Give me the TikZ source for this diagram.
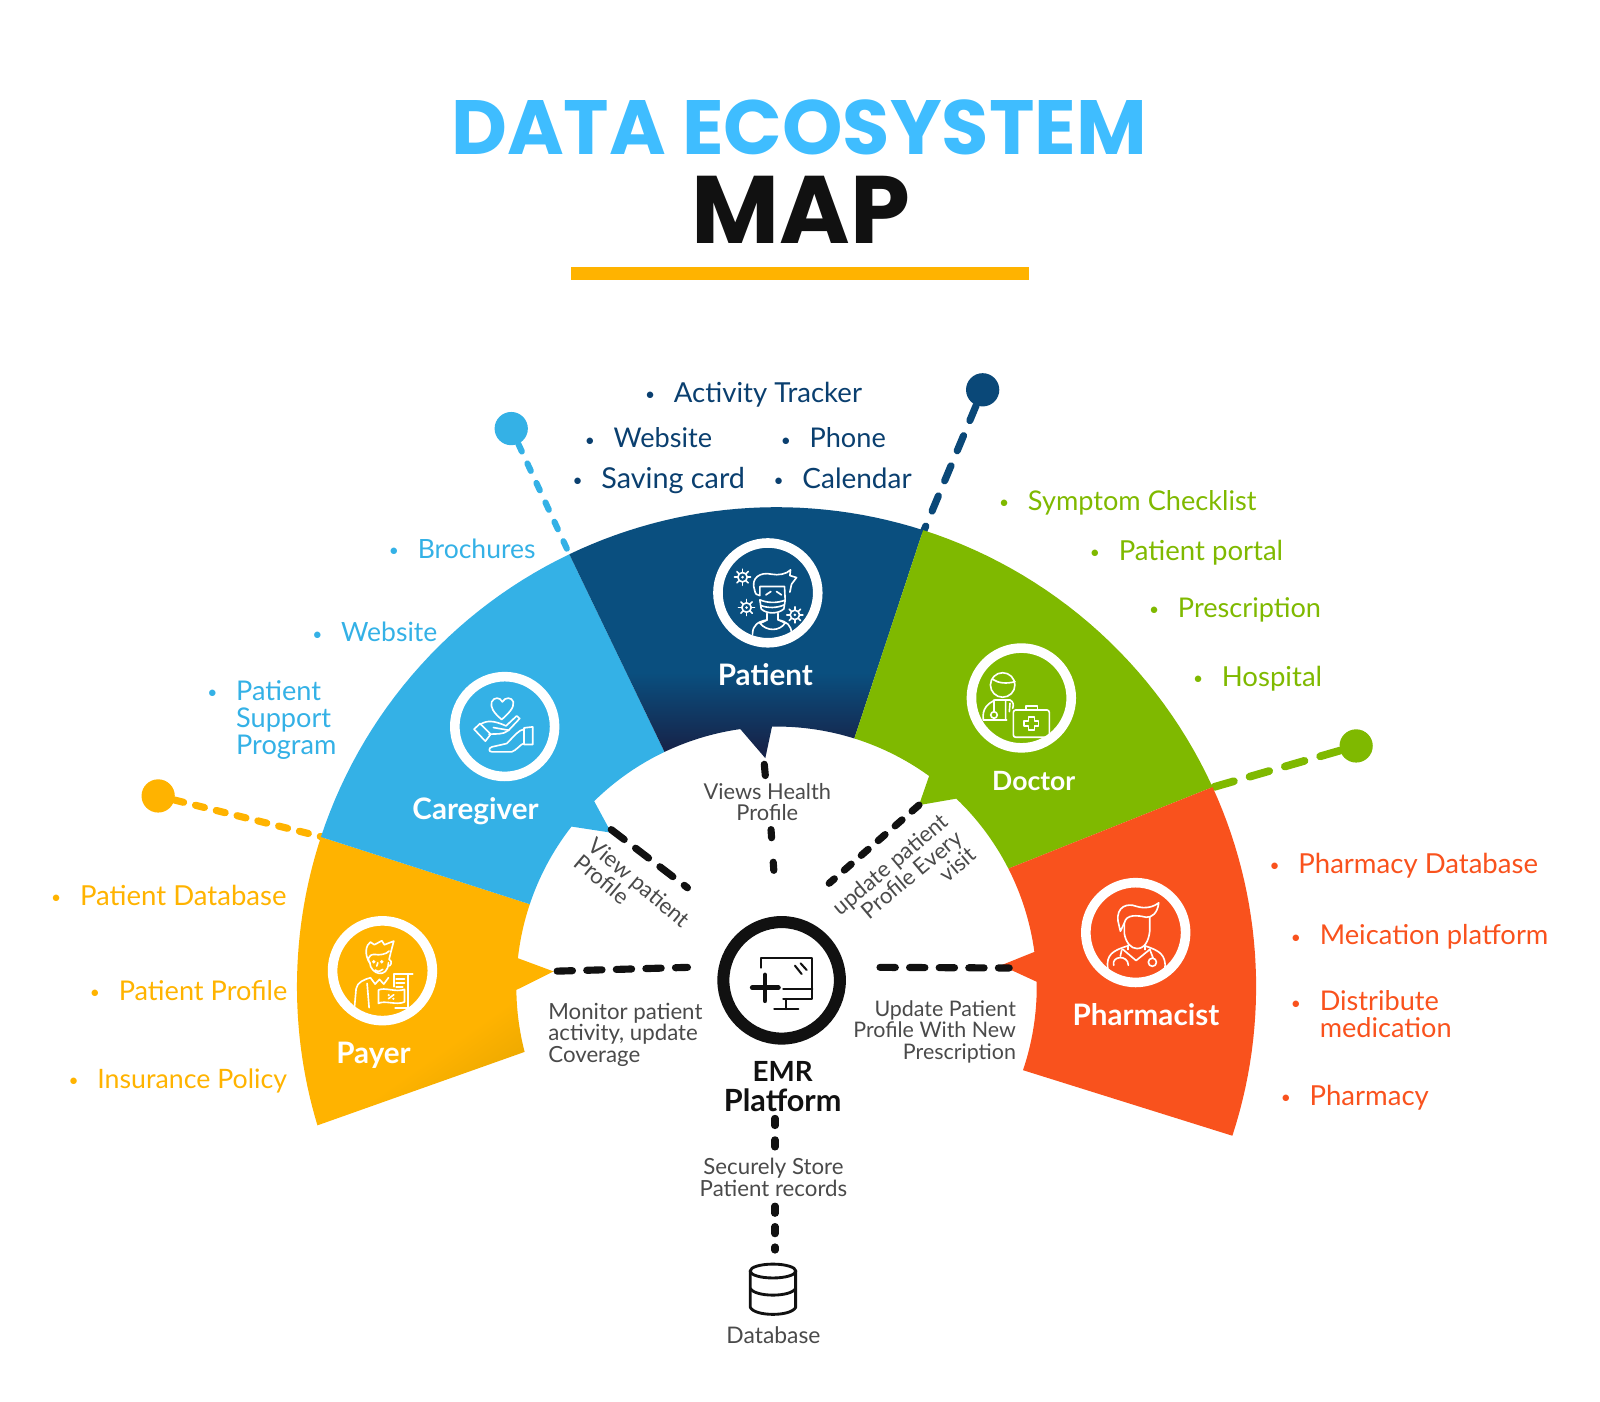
\documentclass[tikz,border=0pt]{standalone}
\usepackage{fontspec}
\setmainfont{Lato}
\newfontfamily\titlefont{Poppins}
\definecolor{cpayer}{HTML}{FFB300}
\definecolor{cpayerd}{HTML}{EBA800}
\definecolor{ccare}{HTML}{34B1E6}
\definecolor{cpat}{HTML}{0A4F7F}
\definecolor{cpatd}{HTML}{16244A}
\definecolor{cdoc}{HTML}{7FB900}
\definecolor{cpharm}{HTML}{F9521D}
\definecolor{ctitle}{HTML}{3FBDFF}
\definecolor{cnavy}{HTML}{0A3F6F}
\definecolor{cnavydot}{HTML}{0A4878}
\definecolor{cblk}{HTML}{111111}
\definecolor{cgray}{HTML}{4A4A4A}
\pgfdeclareverticalshading{patshade}{100bp}{color(0bp)=(cpatd); color(27bp)=(cpatd); color(42bp)=(cpat); color(100bp)=(cpat)}
\pgfdeclareverticalshading{payshade}{100bp}{color(0bp)=(cpayerd); color(27bp)=(cpayerd); color(38bp)=(cpayer); color(100bp)=(cpayer)}
\newcommand{\bul}{\llap{\raisebox{.9pt}{\fontsize{8.5}{8.5}\selectfont •}\hspace{9.2pt}}}
\tikzset{
  listtext/.style={anchor=base west,font=\fontsize{13.5}{13.2}\selectfont,align=left,inner sep=0pt},
  graytext/.style={font=\fontsize{10.9}{10.6}\selectfont,text=cgray,inner sep=0pt},
  seclabel/.style={font=\fontsize{14.5}{15}\selectfont\bfseries,text=white,inner sep=0pt},
  ring/.style={circle,draw=white,line width=4.7pt,minimum size=48.9pt,inner sep=0pt},
  dashline/.style={line width=3.5pt,line cap=round,cblk},
  leader/.style={line width=3.5pt,line cap=round},
  dotnode/.style={circle,inner sep=0pt,minimum size=16.3pt},
  icon/.style={white,line width=.8pt,line cap=round,line join=round},
  sm/.style={samples=30}
}
\begin{document}
\begin{tikzpicture}[x=.5pt,y=-.5pt]
\useasboundingbox (0,0) rectangle (1568,1373);
% title
\node[inner sep=0pt,text=ctitle,font=\titlefont\fontsize{37.7}{40}\selectfont\bfseries] (title1) at (783,125) {DATA ECOSYSTEM};
\node[inner sep=0pt,text=cblk,font=\titlefont\fontsize{47}{50}\selectfont\bfseries] (title2) at (785,206) {MAP};
\fill[cpayer] (560,262) rectangle (1008,274);

% leader dots
\node[dotnode,fill=cpayer] (dpay) at (155,780) {};
\node[dotnode,fill=ccare] (dcare) at (501,420) {};
\node[dotnode,fill=cnavydot] (dpat) at (963,382) {};
\node[dotnode,fill=cdoc] (ddoc) at (1329,731) {};
\coordinate (epay) at (315,820);
\coordinate (ecare) at (558,543);
\coordinate (epat) at (905,521);
\coordinate (edoc) at (1187,772);
\draw[leader,cpayer,dash pattern=on 4.5pt off 6pt] (dpay) -- (epay);
\draw[leader,ccare,line width=3pt,dash pattern=on 4pt off 6.5pt] (dcare) -- (ecare);
\draw[leader,cnavydot,dash pattern=on 8pt off 8pt] (dpat) -- (epat);
\draw[leader,cdoc,line width=3.8pt,dash pattern=on 10pt off 8pt] (ddoc) -- (edoc);

% sections
\shade[shading=payshade,shading angle=35]
  plot[sm,domain=163.2:198.2] ({761+470*cos(\x)},{967+470*sin(\x)})
  -- plot[sm,domain=198.5:186.3] ({761+255*cos(\x)},{967+255*sin(\x)})
  -- (542.5,952)
  -- plot[sm,domain=179.3:165.5] ({761+255*cos(\x)},{967+255*sin(\x)}) -- cycle;
\fill[ccare]
  plot[sm,domain=198.2:244.4] ({761+470*cos(\x)},{967+470*sin(\x)})
  -- plot[sm,domain=244.5:225.5] ({761+255*cos(\x)},{967+255*sin(\x)})
  -- (599,816)
  -- plot[sm,domain=218:198.5] ({761+255*cos(\x)},{967+255*sin(\x)}) -- cycle;
\shade[shading=patshade]
  plot[sm,domain=244.4:287.8] ({761+470*cos(\x)},{967+470*sin(\x)})
  -- plot[sm,domain=287.4:269] ({761+255*cos(\x)},{967+255*sin(\x)})
  -- (750,743)
  -- plot[sm,domain=262:244.5] ({761+255*cos(\x)},{967+255*sin(\x)}) -- cycle;
\fill[cdoc]
  plot[sm,domain=287.8:335.4] ({761+470*cos(\x)},{967+470*sin(\x)})
  -- plot[sm,domain=333:313.7] ({761+255*cos(\x)},{967+255*sin(\x)})
  -- (900.6,789)
  -- plot[sm,domain=305.9:287.4] ({761+255*cos(\x)},{967+255*sin(\x)}) -- cycle;
\fill[cpharm]
  plot[sm,domain=335.4:378.1] ({761+470*cos(\x)},{967+470*sin(\x)})
  -- plot[sm,domain=378.7:358.9] ({761+255*cos(\x)},{967+255*sin(\x)})
  -- (981,946)
  -- plot[sm,domain=352.3:333] ({761+255*cos(\x)},{967+255*sin(\x)}) -- cycle;

% rings
\node[ring] (rpat) at (752.5,581) {};
\node[ring] (rcare) at (494.6,712) {};
\node[ring] (rpay) at (374.8,951.3) {};
\node[ring] (rdoc) at (1000.9,684) {};
\node[ring] (rpharm) at (1113,913.9) {};
\node[circle,draw=cblk,line width=5.9pt,minimum size=57.1pt,inner sep=0pt] (remr) at (766,960.7) {};

% patient icon
\begin{scope}[shift={(752.5,581)},x=.1633pt,y=-.1633pt,shift={(-174,-174)},icon]
\draw (134,165) .. controls (122,130) and (150,110) .. (185,118) .. controls (205,122) and (230,118) .. (242,105) -- (240,122) -- (260,128) -- (245,148) -- (240,172);
\draw (134,165) .. controls (136,178) and (142,182) .. (150,182) -- (150,155) -- (224,155) -- (226,196);
\draw (168,180) -- (183,170) (200,170) -- (215,180);
\draw (150,195) .. controls (175,205) and (200,205) .. (226,196) -- (222,222) .. controls (205,238) and (170,238) .. (154,222) -- cycle;
\draw (153,212) .. controls (175,220) and (200,220) .. (223,210);
\draw (172,236) -- (172,255) (205,236) -- (205,255);
\draw (128,298) .. controls (128,270) and (145,260) .. (172,255) .. controls (160,262) and (150,265) .. (150,265) .. controls (170,290) and (210,290) .. (226,264) .. controls (220,262) and (212,258) .. (205,255) .. controls (230,260) and (245,270) .. (245,298);
\foreach \cx/\cy in {98/127,110/218,255/240}{
  \draw (\cx,\cy) circle[radius=2.3pt];
  \foreach \an in {0,45,...,315}{ \draw (\cx,\cy) ++(\an:14) -- ++(\an:10); }
  \fill[white] (\cx,\cy) circle[radius=.7pt];
}
\end{scope}

% caregiver icon
\begin{scope}[shift={(494.6,712)},x=.1633pt,y=-.1633pt,shift={(-174,-174)},icon]
\draw (165,153) .. controls (140,132) and (130,115) .. (135,100) .. controls (142,85) and (160,85) .. (167,100) .. controls (175,85) and (195,85) .. (200,100) .. controls (203,118) and (185,135) .. (165,153);
\draw (82,182) -- (100,165) -- (132,197) -- (116,218) -- cycle;
\draw (100,168) .. controls (120,155) and (140,155) .. (178,172) -- (210,142) -- (219,150) -- (186,185) -- (140,177);
\draw (127,197) .. controls (145,195) and (170,200) .. (186,185);
\draw (232,178) -- (258,175) -- (258,228) -- (232,228) -- cycle;
\draw (232,182) .. controls (215,185) and (205,200) .. (180,225) -- (136,235) .. controls (125,238) and (125,250) .. (136,250) -- (195,250) .. controls (210,245) and (220,228) .. (232,224);
\end{scope}

% payer icon
\begin{scope}[shift={(374.8,951.3)},x=.1633pt,y=-.1633pt,shift={(-174,-174)},icon]
\draw (136,150) .. controls (118,125) and (125,95) .. (138,88) -- (150,96) -- (172,84) -- (180,96) -- (208,85) -- (200,115) -- (194,140) .. controls (205,145) and (200,160) .. (192,160);
\draw (136,150) .. controls (128,145) and (130,125) .. (150,125) .. controls (165,128) and (185,125) .. (194,115);
\draw (136,150) .. controls (138,185) and (190,200) .. (192,150);
\fill[white] (148,147) circle[radius=.9pt] (172,147) circle[radius=.9pt];
\draw (160,150) -- (157,160) (152,172) .. controls (160,178) and (170,176) .. (175,170);
\draw (138,195) -- (152,214) -- (165,200) -- (178,214) -- (192,195);
\draw (90,285) -- (95,228) .. controls (98,208) and (120,200) .. (138,195);
\draw (128,212) -- (134,285);
\draw (162,232) .. controls (180,222) and (215,240) .. (240,230) -- (240,268) .. controls (215,278) and (180,262) .. (162,272) -- cycle;
\draw (192,258) -- (208,246);
\fill[white] (193,247) circle[radius=.6pt] (207,258) circle[radius=.6pt];
\draw (208,222) -- (208,183) -- (265,183) (250,183) -- (250,285) -- (212,285);
\draw (215,198) -- (240,198) (215,210) -- (240,210) (215,222) -- (235,222);
\end{scope}

% doctor icon
\begin{scope}[shift={(1000.9,684)},x=.1633pt,y=-.1633pt,shift={(-174,-174)},icon]
\draw (118,135) circle[radius=6pt];
\draw (88,118) .. controls (105,130) and (130,132) .. (155,125);
\draw (60,240) .. controls (55,205) and (75,190) .. (95,180) -- (140,180) .. controls (150,185) and (152,195) .. (148,205);
\draw (60,240) -- (130,240);
\draw (92,180) -- (92,215);
\draw (92,225) circle[radius=1.6pt];
\draw (127,182) -- (127,240) (140,190) -- (138,215);
\draw[rounded corners=1.2pt] (150,210) rectangle (258,292);
\draw (188,210) -- (188,198) -- (222,198) -- (222,210);
\draw (195,232) -- (213,232) -- (213,243) -- (226,243) -- (226,259) -- (213,259) -- (213,270) -- (195,270) -- (195,259) -- (182,259) -- (182,243) -- (195,243) -- cycle;
\end{scope}

% pharmacist icon
\begin{scope}[shift={(1113,913.9)},x=.1633pt,y=-.1633pt,shift={(-174,-174)},icon]
\draw (128,170) -- (121,140) .. controls (115,95) and (150,85) .. (175,95) .. controls (205,105) and (230,95) .. (243,85) .. controls (240,115) and (222,130) .. (205,128) .. controls (180,122) and (145,118) .. (140,145) -- (128,170);
\draw (140,145) -- (140,178) .. controls (145,205) and (160,222) .. (178,222) .. controls (200,222) and (213,200) .. (216,170) -- (216,128);
\draw (150,212) -- (150,225) (202,212) -- (202,225);
\draw (135,224) -- (175,258) -- (217,224);
\draw (90,282) .. controls (85,240) and (105,228) .. (150,214);
\draw (262,282) .. controls (265,240) and (245,228) .. (202,214);
\draw (108,272) .. controls (100,245) and (150,238) .. (152,272) (132,226) -- (128,244);
\draw (224,263) circle[radius=2pt] (226,250) -- (216,224);
\end{scope}

% emr icon
\begin{scope}[shift={(766,960.7)},x=.1633pt,y=-.1633pt,shift={(-305,-241)},line cap=round,line join=round,cblk]
\draw[line width=1.1pt] (242,203) -- (242,175) -- (397,175) -- (397,297) -- (310,297) (310,268) -- (397,268);
\draw[line width=1.1pt] (318,297) -- (318,327) (283,327) -- (355,327);
\draw[line width=1pt] (345,197) -- (365,222) (362,190) -- (380,210);
\draw[line width=2.4pt] (217,263) -- (295,263) (255,225) -- (255,302);
\end{scope}

% database icon
\begin{scope}[shift={(757.5,1245.6)},x=.1633pt,y=-.1633pt,shift={(-279,-1113)},cblk,line width=1.4pt,line join=round]
\draw (279,1113) ellipse[x radius=11.2pt,y radius=3.4pt];
\draw (211,1113) -- (211,1222) .. controls (225,1250) and (333,1250) .. (347,1222) -- (347,1113);
\draw (211,1165) .. controls (225,1192) and (333,1192) .. (347,1165);
\end{scope}

% section labels
\node[seclabel] (lpat) at (750,661) {Patient};
\node[seclabel] (lcare) at (466,795) {Caregiver};
\node[seclabel] (lpay) at (366,1034) {Payer};
\node[seclabel,font=\fontsize{13}{14}\selectfont\bfseries] (ldoc) at (1013,765) {Doctor};
\node[seclabel] (lpharm) at (1123,994) {Pharmacist};
\node[seclabel,text=cblk,font=\fontsize{13.6}{14}\selectfont\bfseries] (lemr) at (767,1050) {EMR};
\node[seclabel,text=cblk,font=\fontsize{15}{15}\selectfont\bfseries] (lplat) at (767,1078) {Platform};

% lists
\begin{scope}[every node/.append style={text=cnavy}]
\node[listtext] (n1) at (660,394) {\bul Activity Tracker};
\node[listtext,font=\fontsize{13.3}{13.2}\selectfont] (n2) at (601,439) {\bul Website};
\node[listtext,font=\fontsize{13.3}{13.2}\selectfont] (n3) at (793,439) {\bul Phone};
\node[listtext,font=\fontsize{14.1}{13.2}\selectfont] (n4) at (589,479) {\bul Saving card};
\node[listtext,font=\fontsize{13.7}{13.2}\selectfont] (n5) at (786,479) {\bul Calendar};
\end{scope}
\begin{scope}[every node/.append style={text=ccare}]
\node[listtext,font=\fontsize{13}{13.2}\selectfont] (c1) at (409,547) {\bul Brochures};
\node[listtext,font=\fontsize{13}{13.2}\selectfont] (c2) at (334,629) {\bul Website};
\node[listtext,font=\fontsize{13.3}{13.2}\selectfont] (c3) at (231,739) {\bul Patient\\Support\\Program};
\end{scope}
\begin{scope}[every node/.append style={text=cpayer}]
\node[listtext] (y1) at (78,887) {\bul Patient Database};
\node[listtext,font=\fontsize{13.3}{13.2}\selectfont] (y2) at (116,980) {\bul Patient Profile};
\node[listtext,font=\fontsize{13.1}{13.2}\selectfont] (y3) at (95,1067) {\bul Insurance Policy};
\end{scope}
\begin{scope}[every node/.append style={text=cdoc}]
\node[listtext,font=\fontsize{13.3}{13.2}\selectfont] (g1) at (1007,500) {\bul Symptom Checklist};
\node[listtext] (g2) at (1096,549) {\bul Patient portal};
\node[listtext,font=\fontsize{13.3}{13.2}\selectfont] (g3) at (1154,605) {\bul Prescription};
\node[listtext] (g4) at (1197,673) {\bul Hospital};
\end{scope}
\begin{scope}[every node/.append style={text=cpharm}]
\node[listtext] (r1) at (1272,856) {\bul Pharmacy Database};
\node[listtext,font=\fontsize{13.4}{13.2}\selectfont] (r2) at (1293,926) {\bul Meication platform};
\node[listtext,font=\fontsize{13.3}{13.2}\selectfont] (r3) at (1293,1017) {\bul Distribute\\medication};
\node[listtext] (r4) at (1283,1083) {\bul Pharmacy};
\end{scope}

% flow labels
\node[graytext,align=center,font=\fontsize{10.7}{10.6}\selectfont] (t1) at (752,786) {Views Health\\Profile};
\node[graytext,align=left,anchor=west] (t2) at (537,1014) {Monitor patient\\activity, update\\Coverage};
\node[graytext,align=right,anchor=east,font=\fontsize{10.5}{10.6}\selectfont] (t3) at (996,1011) {Update Patient\\Profile With New\\Prescription};
\node[graytext,align=center] (t4) at (758,1154) {Securely Store\\Patient records};
\node[graytext,font=\fontsize{11.2}{11}\selectfont] (t5) at (758,1308) {Database};
\node[graytext,align=left,rotate=-40] (t6) at (620,873) {View patient\\Profile};
\node[graytext,align=right,rotate=40] (t7) at (886,863) {update patient\\Profile Every\\visit};

% connectors
\coordinate (a1) at (749,749); \coordinate (a2) at (750,760);
\coordinate (a3) at (755.6,813); \coordinate (a4) at (758.8,860);
\coordinate (b1) at (599,813); \coordinate (b2) at (673.7,870);
\coordinate (d1) at (900.6,789); \coordinate (d2) at (812.6,865.6);
\coordinate (p1) at (546,951.7); \coordinate (p2) at (673.7,948);
\coordinate (h1) at (862.4,948); \coordinate (h2) at (989,948.6);
\coordinate (e1) at (759.5,1096); \coordinate (e2) at (759.5,1124);
\coordinate (e3) at (759.5,1182); \coordinate (e4) at (759.5,1225);
\draw[dashline] (a1) -- (a2);
\draw[dashline,dash pattern=on 4pt off 12pt] (a3) -- (a4);
\draw[dashline,dash pattern=on 8pt off 7pt] (b1) -- (b2);
\draw[dashline,dash pattern=on 4.5pt off 6.5pt] (d1) -- (d2);
\draw[dashline,dash pattern=on 7.5pt off 7pt] (p1) -- (p2);
\draw[dashline,dash pattern=on 7.5pt off 7pt] (h1) -- (h2);
\draw[dashline,dash pattern=on 3.5pt off 7pt] (e1) -- (e2);
\draw[dashline,dash pattern=on 3.5pt off 6.5pt] (e3) -- (e4);
\end{tikzpicture}
\end{document}
